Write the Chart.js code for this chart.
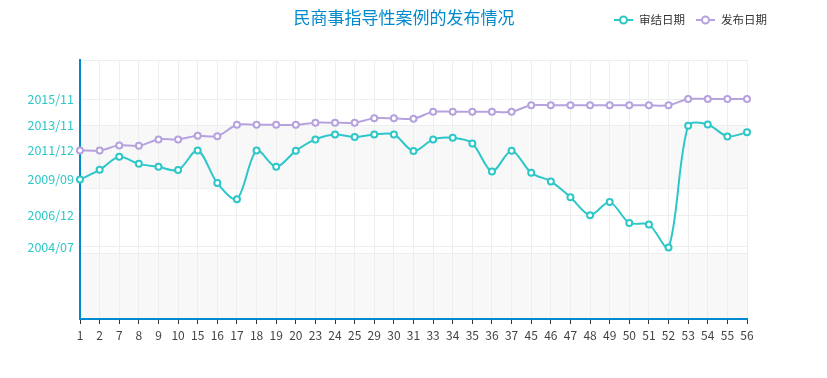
<!DOCTYPE html>
<html>
<head>
<meta charset="utf-8">
<script src="https://cdn.jsdelivr.net/npm/chart.js@4"></script>
<style>
  html, body { margin: 0; padding: 0; background: #fff; }
  #wrap { width: 827px; height: 378px; }
</style>
</head>
<body>
<div id="wrap"><canvas id="statsChart"></canvas></div>
<script>
const FONT = '"Microsoft YaHei", "Noto Sans CJK SC", "Noto Sans", sans-serif';

const chartTitle = "民商事指导性案例的发布情况";
const seriesNames = ["审结日期", "发布日期"];
const seriesColors = ["#2ec7c9", "#b6a2de"];

// 案例编号
const caseNumbers = ["1", "2", "7", "8", "9", "10", "15", "16", "17", "18", "19", "20",
  "23", "24", "25", "29", "30", "31", "33", "34", "35", "36", "37", "45", "46", "47",
  "48", "49", "50", "51", "52", "53", "54", "55", "56"];

// 日期は年の小数で持つ (2011.95 ≒ 2011/12)
const closedDates = [2009.72, 2010.46, 2011.46, 2010.92, 2010.69, 2010.44, 2011.95, 2009.44,
  2008.21, 2011.95, 2010.69, 2011.92, 2012.80, 2013.18, 2012.98, 2013.18, 2013.18, 2011.90,
  2012.80, 2012.92, 2012.49, 2010.34, 2011.92, 2010.23, 2009.57, 2008.36, 2006.98, 2007.98,
  2006.38, 2006.26, 2004.49, 2013.85, 2013.95, 2013.03, 2013.34];

const publishDates = [2011.95, 2011.95, 2012.34, 2012.31, 2012.80, 2012.80, 2013.08, 2013.05,
  2013.92, 2013.92, 2013.92, 2013.92, 2014.08, 2014.08, 2014.08, 2014.42, 2014.42, 2014.38,
  2014.92, 2014.92, 2014.92, 2014.92, 2014.92, 2015.42, 2015.42, 2015.42, 2015.42, 2015.42,
  2015.42, 2015.42, 2015.42, 2015.90, 2015.90, 2015.90, 2015.90];

// y軸
const yMin = 1999;
const yMax = 2018.9;
const yTickValues = [2004.54, 2006.96, 2009.71, 2011.96, 2013.88, 2015.88];
const yTickLabels = ["2004/07", "2006/12", "2009/09", "2011/12", "2013/11", "2015/11"];
const yGridValues = [2004.0, 2004.54, 2006.96, 2009.0, 2013.88, 2015.88, 2018.9];
const yBands = [[1999, 2004.0], [2009.0, 2013.88]];

// 背景の帯
const bandPlugin = {
  id: "bands",
  beforeDraw(chart) {
    const { ctx, chartArea: a, scales: { y } } = chart;
    ctx.save();
    ctx.fillStyle = "#f8f8f8";
    yBands.forEach(([lo, hi]) => {
      const top = y.getPixelForValue(hi);
      const bottom = y.getPixelForValue(lo);
      ctx.fillRect(a.left, top, a.right - a.left, bottom - top);
    });
    ctx.restore();
  }
};

// タイトルと凡例 (同じ行に並べる)
const headerPlugin = {
  id: "header",
  afterDraw(chart) {
    const ctx = chart.ctx;
    ctx.save();
    ctx.textBaseline = "middle";
    ctx.font = "17px " + FONT;
    ctx.fillStyle = "#008acd";
    ctx.textAlign = "center";
    ctx.fillText(chartTitle, 404, 18);

    ctx.font = "11.5px " + FONT;
    ctx.textAlign = "left";
    let right = 767;
    for (let i = seriesNames.length - 1; i >= 0; i--) {
      const w = ctx.measureText(seriesNames[i]).width;
      const textX = right - w;
      const iconX = textX - 25;
      ctx.fillStyle = "#333";
      ctx.fillText(seriesNames[i], textX, 20);
      ctx.strokeStyle = seriesColors[i];
      ctx.lineWidth = 2;
      ctx.beginPath();
      ctx.moveTo(iconX, 20);
      ctx.lineTo(iconX + 19, 20);
      ctx.stroke();
      ctx.beginPath();
      ctx.arc(iconX + 9.5, 20, 3.5, 0, Math.PI * 2);
      ctx.fillStyle = "#fff";
      ctx.fill();
      ctx.stroke();
      right = iconX - 11;
    }
    ctx.restore();
  }
};

function makeDataset(i, values) {
  return {
    label: seriesNames[i],
    data: values,
    borderColor: seriesColors[i],
    backgroundColor: "#fff",
    borderWidth: 2,
    pointRadius: 3,
    pointBorderWidth: 2,
    pointBackgroundColor: "#fff",
    pointBorderColor: seriesColors[i],
    tension: 0.3,
    clip: false
  };
}

Chart.defaults.font.family = FONT;

new Chart(document.getElementById("statsChart"), {
  type: "line",
  data: {
    labels: caseNumbers,
    datasets: [makeDataset(0, closedDates), makeDataset(1, publishDates)]
  },
  options: {
    responsive: true,
    maintainAspectRatio: false,
    animation: false,
    layout: { padding: { top: 60, right: 80, left: 0, bottom: 0 } },
    plugins: {
      legend: { display: false },
      title: { display: false },
      tooltip: { enabled: false }
    },
    scales: {
      x: {
        offset: false,
        grid: { color: "#eee", tickColor: "#333", tickLength: 5 },
        border: { color: "#008acd", width: 2 },
        ticks: { color: "#444", font: { size: 12 }, padding: 4, autoSkip: false, maxRotation: 0 },
        afterFit(scale) { scale.height = 59; }
      },
      y: {
        min: yMin,
        max: yMax,
        afterBuildTicks(scale) {
          const vals = [...new Set([...yTickValues, ...yGridValues])].sort((a, b) => a - b);
          scale.ticks = vals.map(v => ({ value: v }));
        },
        grid: {
          drawTicks: false,
          color: c => (c.tick && yGridValues.includes(c.tick.value)) ? "#eee" : "rgba(0,0,0,0)"
        },
        border: { color: "#008acd", width: 2 },
        ticks: {
          color: "#2ec7c9",
          font: { size: 12.5 },
          padding: 6,
          autoSkip: false,
          callback: value => {
            const i = yTickValues.indexOf(value);
            return i >= 0 ? yTickLabels[i] : "";
          }
        },
        afterFit(scale) { scale.width = 80; }
      }
    }
  },
  plugins: [bandPlugin, headerPlugin]
});
</script>
</body>
</html>
